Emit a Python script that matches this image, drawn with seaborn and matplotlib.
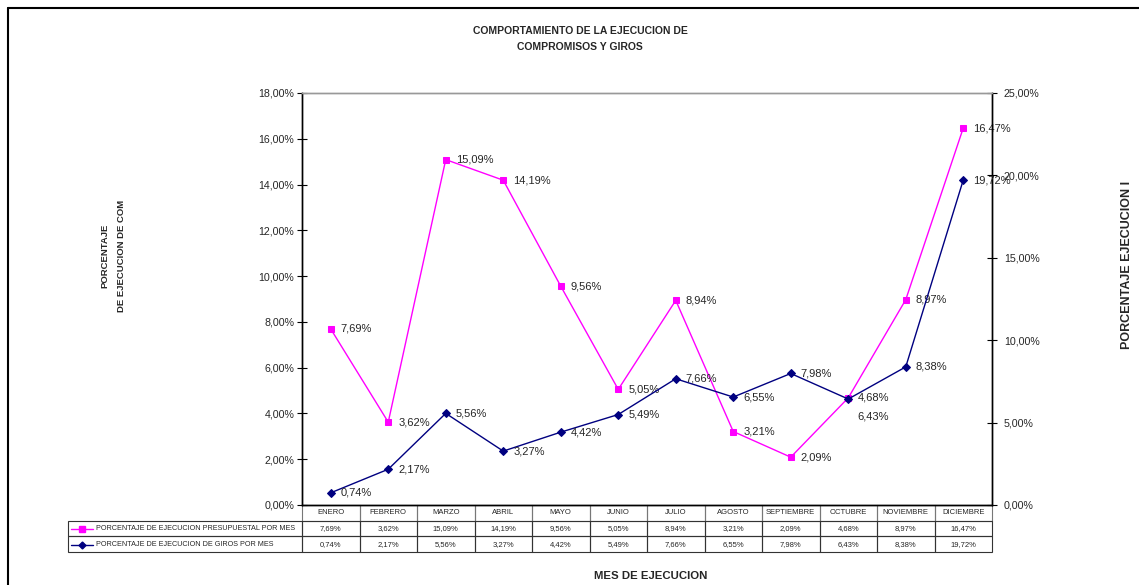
import matplotlib
matplotlib.use("Agg")
import matplotlib.pyplot as plt
from matplotlib.lines import Line2D
from matplotlib.ticker import FuncFormatter, MultipleLocator
import numpy as np
import pandas as pd
import seaborn as sns

# datos
meses = ["ENERO", "FEBRERO", "MARZO", "ABRIL", "MAYO", "JUNIO", "JULIO",
         "AGOSTO", "SEPTIEMBRE", "OCTUBRE", "NOVIEMBRE", "DICIEMBRE"]
presupuestal = [7.69, 3.62, 15.09, 14.19, 9.56, 5.05, 8.94, 3.21, 2.09, 4.68, 8.97, 16.47]
giros = [0.74, 2.17, 5.56, 3.27, 4.42, 5.49, 7.66, 6.55, 7.98, 6.43, 8.38, 19.72]
nombre_pres = "PORCENTAJE DE EJECUCION PRESUPUESTAL POR MES"
nombre_giros = "PORCENTAJE DE EJECUCION DE GIROS POR MES"

sns.set_theme(style="white")
plt.rcParams["font.family"] = ["Liberation Sans", "DejaVu Sans"]

W, H = 1139, 585
fig = plt.figure(figsize=(W / 100, H / 100), dpi=100)


def fx(x):
    return x / W


def fy(y):
    return 1 - y / H


# area del grafico
x0, x1, yt, yb = 302, 992, 93, 505
ax = fig.add_axes([fx(x0), fy(yb), fx(x1) - fx(x0), fy(yt) - fy(yb)])
ax2 = ax.twinx()

df = pd.DataFrame({"mes": np.arange(len(meses)), "pres": presupuestal, "giros": giros})
magenta = "#FF00FF"
navy = "#000080"

sns.lineplot(data=df, x="mes", y="pres", ax=ax, color=magenta, lw=1,
             marker="s", markersize=5, markeredgecolor=magenta)
sns.lineplot(data=df, x="mes", y="giros", ax=ax2, color=navy, lw=1,
             marker="D", markersize=4.5, markeredgecolor=navy)

ax.set_xlim(-0.5, len(meses) - 0.5)
ax.set_ylim(0, 18)
ax2.set_ylim(0, 25)
ax.yaxis.set_major_locator(MultipleLocator(2))
ax2.yaxis.set_major_locator(MultipleLocator(5))
fmt = FuncFormatter(lambda v, p: f"{v:.2f}%".replace(".", ","))
ax.yaxis.set_major_formatter(fmt)
ax2.yaxis.set_major_formatter(fmt)
ax.set_xticks([])
ax2.set_xticks([])
ax.set_xlabel("")
ax.set_ylabel("")
ax2.set_xlabel("")
ax2.set_ylabel("")
ax.grid(False)
ax2.grid(False)
ax.tick_params(axis="y", direction="inout", length=7, width=0.8, labelsize=7.7,
               color="black", left=True, pad=2)
ax2.tick_params(axis="y", direction="inout", length=7, width=0.8, labelsize=7.7,
                color="black", right=True, pad=5)

for a in (ax, ax2):
    for s in a.spines.values():
        s.set_color("black")
        s.set_linewidth(1)
    a.spines["top"].set_color("#999999")

# etiquetas de datos
for i, v in enumerate(presupuestal):
    ax.annotate(f"{v:.2f}%".replace(".", ","), xy=(i, v), xytext=(10, 0),
                textcoords="offset pixels", ha="left", va="center", fontsize=8)
for i, v in enumerate(giros):
    off = (9, -17) if meses[i] == "OCTUBRE" else (10, 0)
    ax2.annotate(f"{v:.2f}%".replace(".", ","), xy=(i, v), xytext=off,
                 textcoords="offset pixels", ha="left", va="center", fontsize=8)

# tabla de datos
filas = [[""] + [f"{v:.2f}%".replace(".", ",") for v in presupuestal],
         [""] + [f"{v:.2f}%".replace(".", ",") for v in giros]]
tx0, tyb = 68, 552
ancho = x1 - x0
alto = yb - yt
tabla = ax.table(cellText=filas, colLabels=[""] + meses, cellLoc="center",
                 colWidths=[x0 - tx0] + [ancho / 12] * 12,
                 bbox=[(tx0 - x0) / ancho, -(tyb - yb) / alto, (x1 - tx0) / ancho, (tyb - yb) / alto])
tabla.auto_set_font_size(False)
tabla.set_fontsize(5.5)
for (r, c), cell in tabla.get_celld().items():
    cell.set_linewidth(0.8)
    cell.set_edgecolor("#333333")
    cell.set_facecolor("none")
    if r == 0:
        cell.set_edgecolor("#777777")
        if c == 0:
            cell.visible_edges = ""

# claves de leyenda dentro de la tabla
for yrow, col, mk, ms, nombre in [(529, magenta, "s", 4, nombre_pres),
                                  (545, navy, "D", 3.5, nombre_giros)]:
    fig.add_artist(Line2D([fx(71), fx(82), fx(93)], [fy(yrow)] * 3, color=col, lw=1,
                          marker=mk, markersize=ms, markevery=[1], transform=fig.transFigure))
    fig.text(fx(96), fy(yrow), nombre, fontsize=5.2, ha="left", va="center")

# titulos
fig.text(fx(580), fy(31), "COMPORTAMIENTO DE LA EJECUCION DE", fontsize=7.5,
         fontweight="bold", ha="center", va="center")
fig.text(fx(580), fy(47), "COMPROMISOS Y GIROS", fontsize=7.5,
         fontweight="bold", ha="center", va="center")
fig.text(fx(113), fy(256), "PORCENTAJE\nDE EJECUCION DE COM", fontsize=6.8,
         fontweight="bold", ha="center", va="center", rotation=90, linespacing=2.0)
fig.text(fx(1127), fy(265), "PORCENTAJE EJECUCION I", fontsize=9,
         fontweight="bold", ha="center", va="center", rotation=90)
fig.text(fx(651), fy(576), "MES DE EJECUCION", fontsize=8.2,
         fontweight="bold", ha="center", va="center")

# marco exterior
fig.add_artist(Line2D([fx(8), fx(8)], [fy(8), 0], color="black", lw=1.5, transform=fig.transFigure))
fig.add_artist(Line2D([fx(8), 1], [fy(8), fy(8)], color="black", lw=1.5, transform=fig.transFigure))

fig.savefig("out.png", dpi=100)
